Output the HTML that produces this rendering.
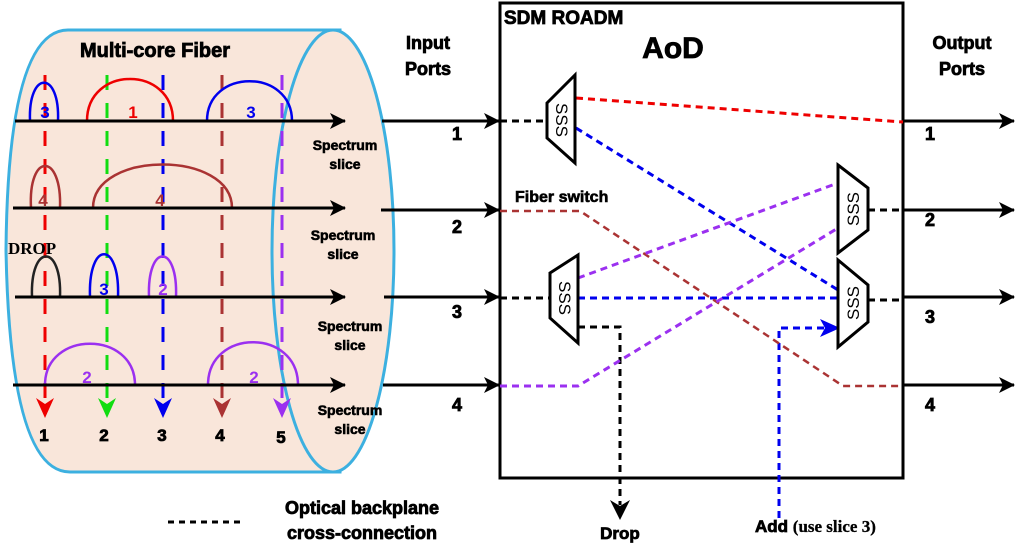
<!DOCTYPE html>
<html><head><meta charset="utf-8"><style>
html,body{margin:0;padding:0;background:#fff;}
svg{display:block;font-family:"Liberation Sans",sans-serif;font-weight:bold;}
.b{stroke:#000;stroke-width:0.8px;}
</style></head><body>
<svg width="1025" height="544" viewBox="0 0 1025 544" xmlns="http://www.w3.org/2000/svg">
<defs>
<marker id="ah" markerWidth="16" markerHeight="16" refX="15" refY="8" orient="auto" markerUnits="userSpaceOnUse"><path d="M0,0 L16,8 L0,16 L4,8 z" fill="#000"/></marker>
</defs>
<!-- cylinder -->
<path d="M68,30 L340,30 L340,472 L70,472 Q10,472 6,250 Q8,30 68,30 Z" fill="#f9e6da" stroke="#3cb0e0" stroke-width="3"/>
<ellipse cx="333" cy="251" rx="61" ry="221" fill="#f9e6da" stroke="#3cb0e0" stroke-width="3"/>
<text x="155" y="57" font-size="20" text-anchor="middle" class="b">Multi-core Fiber</text>
<!-- vertical dashed columns -->
<g stroke-width="3" stroke-dasharray="15,13" fill="none">
<line x1="45" y1="75" x2="45" y2="405" stroke="#e00"/>
<line x1="107" y1="75" x2="107" y2="405" stroke="#1d1"/>
<line x1="163" y1="75" x2="163" y2="405" stroke="#00e"/>
<line x1="222" y1="75" x2="222" y2="405" stroke="#a33"/>
<line x1="282" y1="75" x2="282" y2="405" stroke="#9b30f0"/>
</g>
<path d="M36,398 L45,418 L54,398 L45,404z" fill="#e00"/>
<path d="M98,398 L107,418 L116,398 L107,404z" fill="#1d1"/>
<path d="M154,398 L163,418 L172,398 L163,404z" fill="#00e"/>
<path d="M213,398 L222,418 L231,398 L222,404z" fill="#a33"/>
<path d="M273,398 L282,418 L291,398 L282,404z" fill="#9b30f0"/>
<g font-size="17" text-anchor="middle" class="b">
<text x="44" y="441">1</text><text x="104" y="441">2</text><text x="162" y="441">3</text><text x="220" y="441">4</text><text x="281" y="443">5</text>
</g>
<!-- arcs -->
<g fill="none" stroke-width="2.5">
<path d="M30,121 C28,70 60,70 58,121" stroke="#00e"/>
<path d="M87,121 C87,65 173,65 173,121" stroke="#e00"/>
<path d="M207,121 C207,68 292,68 292,121" stroke="#00e"/>
<path d="M31,208 C28,152 62,152 60,208" stroke="#a33"/>
<path d="M93,208 C93,150 232,150 232,208" stroke="#a33"/>
<path d="M32,297 C30,243 62,243 60,297" stroke="#222"/>
<path d="M90,297 C88,240 120,240 118,297" stroke="#00e"/>
<path d="M149,297 C147,243 178,243 176,297" stroke="#9b30f0"/>
<path d="M45,385 C45,330 135,330 135,385" stroke="#9b30f0"/>
<path d="M208,385 C208,328 298,328 298,385" stroke="#9b30f0"/>
</g>
<g font-size="17" text-anchor="middle">
<text x="45" y="118" fill="#00e">3</text><text x="133" y="118" fill="#e00">1</text><text x="251" y="118" fill="#00e">3</text>
<text x="43" y="206" fill="#a33">4</text><text x="160" y="206" fill="#a33">4</text>
<text x="104" y="295" fill="#00e">3</text><text x="163" y="295" fill="#9b30f0">2</text>
<text x="87" y="383" fill="#9b30f0">2</text><text x="254" y="383" fill="#9b30f0">2</text>
</g>
<text x="8" y="254" font-family="Liberation Serif,serif" font-size="17">DROP</text>
<!-- horizontal arrows -->
<g stroke="#000" stroke-width="3" marker-end="url(#ah)">
<line x1="15" y1="121" x2="345" y2="121"/><line x1="13" y1="208" x2="345" y2="208"/>
<line x1="15" y1="297" x2="345" y2="297"/><line x1="13" y1="385" x2="345" y2="385"/>
<line x1="382" y1="121" x2="499" y2="121"/><line x1="381" y1="210" x2="499" y2="210"/>
<line x1="384" y1="297" x2="499" y2="297"/><line x1="383" y1="385" x2="499" y2="385"/>
<line x1="903" y1="121" x2="1014" y2="121"/><line x1="903" y1="210" x2="1014" y2="210"/>
<line x1="903" y1="297" x2="1014" y2="297"/><line x1="903" y1="385" x2="1014" y2="385"/>
</g>
<g font-size="14" text-anchor="middle" class="b" style="stroke-width:0.6px">
<text x="345" y="150">Spectrum</text><text x="345" y="169">slice</text>
<text x="343" y="240">Spectrum</text><text x="343" y="259">slice</text>
<text x="350" y="331">Spectrum</text><text x="350" y="350">slice</text>
<text x="350" y="415">Spectrum</text><text x="350" y="434">slice</text>
</g>
<g font-size="18" text-anchor="middle" class="b">
<text x="428" y="49">Input</text><text x="428" y="75">Ports</text>
<text x="962" y="49">Output</text><text x="962" y="75">Ports</text>
<text x="457" y="140">1</text><text x="457" y="233">2</text><text x="457" y="318">3</text><text x="457" y="411">4</text>
<text x="930" y="140">1</text><text x="930" y="226">2</text><text x="930" y="323">3</text><text x="930" y="411">4</text>
</g>
<!-- box -->
<rect x="500" y="3" width="403" height="475" fill="none" stroke="#000" stroke-width="3"/>
<text x="504" y="24" font-size="19" class="b">SDM ROADM</text>
<text x="673" y="58" font-size="30" text-anchor="middle" class="b">AoD</text>
<text x="515" y="202" font-size="16" class="b" style="stroke-width:0.6px">Fiber switch</text>
<!-- dashed connections -->
<g fill="none" stroke-width="3" stroke-dasharray="7,5">
<line x1="500" y1="121" x2="547" y2="121" stroke="#000"/>
<line x1="500" y1="298" x2="550" y2="298" stroke="#000"/>
<line x1="868" y1="210" x2="903" y2="210" stroke="#000"/>
<line x1="868" y1="300" x2="903" y2="300" stroke="#000"/>
<path d="M578,327 L620,327 L620,505" stroke="#000"/>
<line x1="576" y1="98" x2="903" y2="122" stroke="#e00"/>
<line x1="576" y1="128" x2="838" y2="290" stroke="#00e"/>
<line x1="578" y1="298" x2="838" y2="298" stroke="#00e"/>
<path d="M779,518 L779,328 L828,328" stroke="#00e"/>
<path d="M500,211 L580,211 L843,386 L903,386" stroke="#a33" stroke-width="2.5"/>
<line x1="578" y1="278" x2="838" y2="183" stroke="#9b30f0"/>
<path d="M500,386 L578,386 L838,228" stroke="#9b30f0"/>
</g>
<path d="M610,500 L620,520 L630,500 L620,506z" fill="#000"/>
<path d="M820,319 L840,328 L820,337 L825,328z" fill="#00e"/>
<!-- SSS -->
<g fill="#fff" stroke="#000" stroke-width="3">
<path d="M547,103 L575,75 L575,163 L547,138 Z"/>
<path d="M550,273 L578,255 L578,343 L550,318 Z"/>
<path d="M838,165 L868,188 L868,230 L838,253 Z"/>
<path d="M838,260 L868,285 L868,322 L838,347 Z"/>
</g>
<g font-size="17" font-weight="normal" text-anchor="middle">
<text transform="translate(556,120) rotate(90)">SSS</text>
<text transform="translate(559,298) rotate(90)">SSS</text>
<text transform="translate(859,209) rotate(-90)">SSS</text>
<text transform="translate(859,303) rotate(-90)">SSS</text>
</g>
<!-- legend -->
<line x1="168" y1="522" x2="240" y2="522" stroke="#000" stroke-width="3" stroke-dasharray="6,5"/>
<text x="362" y="514" font-size="18" text-anchor="middle" class="b">Optical backplane</text>
<text x="362" y="539" font-size="18" text-anchor="middle" class="b">cross-connection</text>
<text x="620" y="539" font-size="17" text-anchor="middle" class="b">Drop</text>
<text x="755" y="532" font-size="17" class="b">Add <tspan font-family="Liberation Serif,serif" style="stroke-width:0.3px">(use slice 3)</tspan></text>
</svg>
</body></html>
